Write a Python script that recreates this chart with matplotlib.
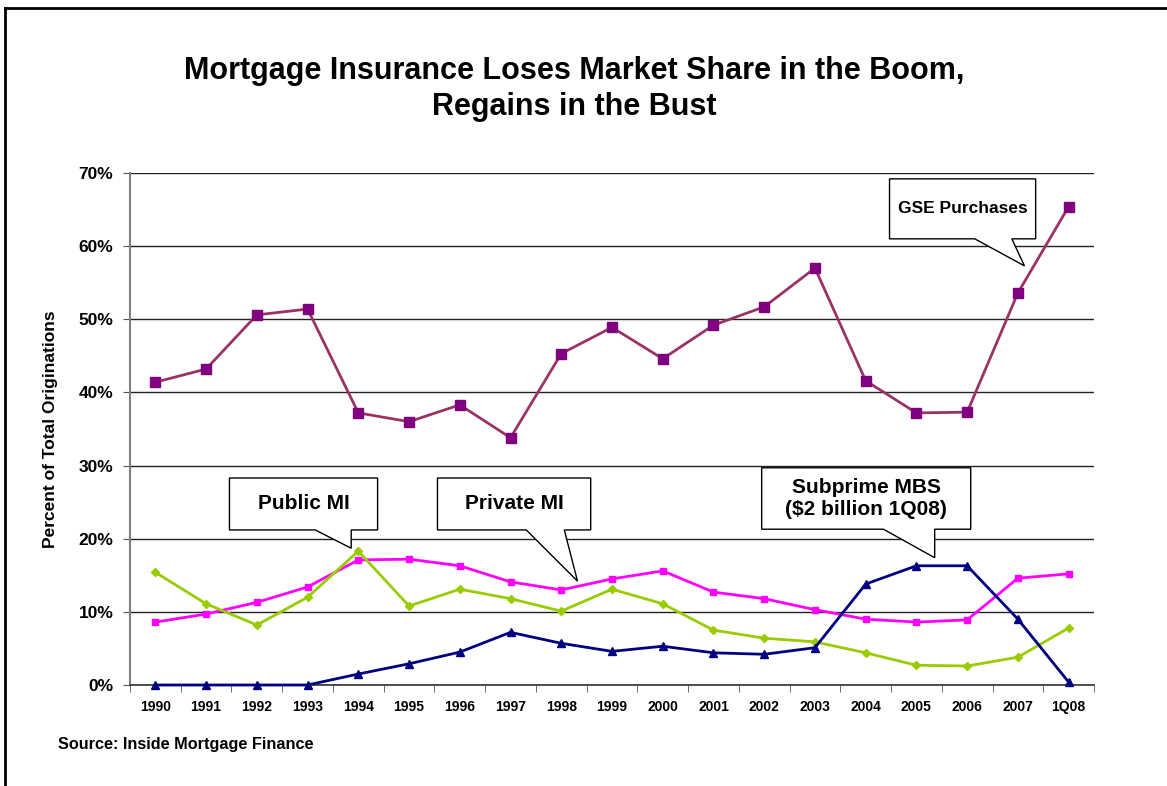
import matplotlib.pyplot as plt
from matplotlib.lines import Line2D
from matplotlib.patches import Polygon
from matplotlib.ticker import FixedLocator, PercentFormatter

plt.rcParams['font.family'] = ['Liberation Sans', 'DejaVu Sans']
plt.rcParams['font.weight'] = 'bold'

years = ["1990", "1991", "1992", "1993", "1994", "1995", "1996", "1997", "1998",
         "1999", "2000", "2001", "2002", "2003", "2004", "2005", "2006", "2007", "1Q08"]

gse = [41.4, 43.2, 50.6, 51.4, 37.2, 36.0, 38.3, 33.8, 45.3, 48.9,
       44.6, 49.2, 51.7, 57.0, 41.6, 37.2, 37.3, 53.6, 65.4]
private_mi = [8.6, 9.7, 11.3, 13.4, 17.1, 17.2, 16.3, 14.1, 13.0, 14.5,
              15.6, 12.7, 11.8, 10.3, 9.0, 8.6, 8.9, 14.6, 15.2]
public_mi = [15.4, 11.1, 8.2, 12.0, 18.3, 10.8, 13.1, 11.8, 10.1, 13.1,
             11.1, 7.5, 6.4, 5.9, 4.4, 2.7, 2.6, 3.8, 7.8]
subprime = [0.0, 0.0, 0.0, 0.0, 1.5, 2.9, 4.5, 7.2, 5.7, 4.6,
            5.3, 4.4, 4.2, 5.1, 13.8, 16.3, 16.3, 9.0, 0.4]

x = list(range(len(years)))

fig = plt.figure(figsize=(11.67, 7.86), dpi=100)
ax = fig.add_axes([130 / 1167, 101 / 786, 964 / 1167, 512 / 786])

# frame lines on the slide edge
fig.add_artist(Line2D([5 / 1167, 5 / 1167], [0, 778 / 786], transform=fig.transFigure,
                      color="black", lw=2))
fig.add_artist(Line2D([5 / 1167, 1], [778 / 786, 778 / 786], transform=fig.transFigure,
                      color="black", lw=2))

ax.plot(x, gse, color="#993366", lw=2, marker="s", markersize=7.5,
        markerfacecolor="#800080", markeredgecolor="#800080", zorder=4)
ax.plot(x, private_mi, color="#FF00FF", lw=2, marker="s", markersize=5,
        markerfacecolor="#FF00FF", markeredgecolor="#FF00FF", zorder=4)
ax.plot(x, public_mi, color="#99CC00", lw=2, marker="D", markersize=4.5,
        markerfacecolor="#99CC00", markeredgecolor="#99CC00", zorder=4)
ax.plot(x, subprime, color="#000080", lw=2, marker="^", markersize=5.5,
        markerfacecolor="#000080", markeredgecolor="#000080", zorder=5, clip_on=False)

ax.set_xlim(-0.5, len(years) - 0.5)
ax.set_ylim(0, 70)
ax.yaxis.set_major_locator(FixedLocator(range(0, 71, 10)))
ax.yaxis.set_major_formatter(PercentFormatter(decimals=0))
ax.grid(axis="y", color="#222222", lw=1)
ax.set_axisbelow(True)

ax.set_xticks(x)
ax.set_xticklabels(years, fontsize=10, fontweight="bold")
ax.tick_params(axis="x", which="major", length=0, pad=11)
ax.set_xticks([i - 0.5 for i in range(len(years) + 1)], minor=True)
ax.tick_params(axis="x", which="minor", length=5, color="#555555", direction="out")
ax.tick_params(axis="y", length=5, color="#555555", labelsize=12.5, pad=7)
for lbl in ax.get_yticklabels():
    lbl.set_fontweight("bold")

for side in ["top", "right"]:
    ax.spines[side].set_visible(False)
ax.spines["left"].set_color("#808080")
ax.spines["left"].set_linewidth(1.5)
ax.spines["bottom"].set_color("#333333")
ax.spines["bottom"].set_linewidth(1.2)

ax.set_ylabel("Percent of Total Originations", fontsize=12.5, fontweight="bold")
ax.yaxis.set_label_coords((58 - 130) / 964, 0.5)


def callout(text, x0, x1, y0, y1, b0, b1, tip, size):
    pts = [(x0, y1), (x1, y1), (x1, y0), (b1, y0), tip, (b0, y0), (x0, y0)]
    ax.add_patch(Polygon(pts, closed=True, facecolor="white", edgecolor="black",
                         lw=1, zorder=6, clip_on=False))
    ax.text((x0 + x1) / 2, (y0 + y1) / 2, text, ha="center", va="center",
            fontsize=size, fontweight="bold", zorder=7, linespacing=1.25)


callout("GSE Purchases", 14.47, 17.35, 61.0, 69.2, 16.15, 16.88, (17.13, 57.3), 12.5)
callout("Public MI", 1.46, 4.38, 21.2, 28.3, 3.15, 3.86, (3.86, 18.7), 15)
callout("Private MI", 5.56, 8.58, 21.2, 28.3, 7.31, 8.06, (8.32, 14.2), 15)
callout("Subprime MBS\n($2 billion 1Q08)", 11.95, 16.07, 21.3, 29.7, 14.35, 15.36,
        (15.36, 17.4), 15)

fig.text(574 / 1167, 1 - 89 / 786,
         "Mortgage Insurance Loses Market Share in the Boom,\nRegains in the Bust",
         ha="center", va="center", fontsize=22, fontweight="bold", linespacing=1.3)
fig.text(58 / 1167, 1 - 745 / 786, "Source: Inside Mortgage Finance",
         ha="left", va="center", fontsize=11.7, fontweight="bold")

fig.savefig("out.png", dpi=100)
